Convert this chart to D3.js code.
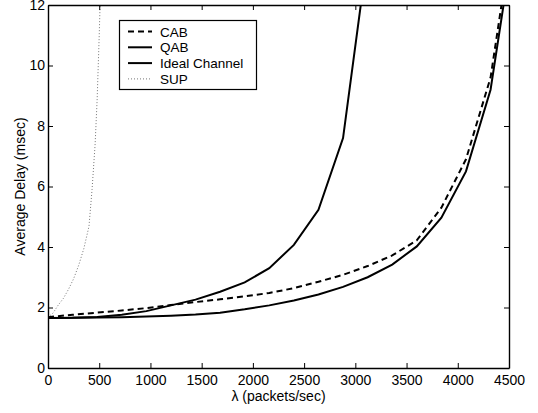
<!DOCTYPE html>
<html>
<head>
<meta charset="utf-8">
<script src="https://cdn.jsdelivr.net/npm/d3@7"></script>
<style>
  body { margin: 0; background: #fff; }
  svg text { font-family: "Liberation Sans", Arial, Helvetica, sans-serif; fill: #000; }
</style>
</head>
<body>
<svg id="chart" width="538" height="413"></svg>
<script>
// arrival rate lambda (packets/sec) at which the model curves were evaluated
var lambdas = [0, 240, 480, 720, 960, 1200, 1440, 1680, 1920, 2160, 2400, 2640, 2880, 3120, 3360, 3600, 3840, 4080, 4320, 4560];
// average delay (msec) for each scheme
var cabDelay   = [1.68, 1.76, 1.83, 1.9, 1.98, 2.08, 2.18, 2.27, 2.37, 2.48, 2.64, 2.85, 3.08, 3.37, 3.72, 4.22, 5.3, 6.9, 9.6, 15];
var qabDelay   = [1.65, 1.66, 1.69, 1.76, 1.88, 2.07, 2.26, 2.52, 2.83, 3.3, 4.07, 5.23, 7.6, 13.7];
var idealDelay = [1.65, 1.66, 1.67, 1.68, 1.7, 1.73, 1.77, 1.83, 1.94, 2.07, 2.23, 2.43, 2.68, 3.0, 3.42, 4.02, 4.97, 6.5, 9.2, 14.5];
// SUP saturates early, sampled finer
var supLambdas = [0, 50, 100, 150, 200, 250, 300, 350, 400, 430, 460, 480, 500, 510];
var supDelay   = [1.67, 1.82, 2.08, 2.3, 2.6, 2.95, 3.4, 3.95, 4.68, 5.9, 7.4, 8.9, 11.0, 12.2];

var xTicks = [0, 500, 1000, 1500, 2000, 2500, 3000, 3500, 4000, 4500];
var yTicks = [0, 2, 4, 6, 8, 10, 12];

var series = [
  {name: "CAB", x: lambdas, y: cabDelay, dash: "6,4", color: "#000", width: 2},
  {name: "QAB", x: lambdas, y: qabDelay, dash: null, color: "#000", width: 2},
  {name: "Ideal Channel", x: lambdas, y: idealDelay, dash: null, color: "#000", width: 2},
  {name: "SUP", x: supLambdas, y: supDelay, dash: "1,2", color: "#777", width: 1}
];

var svg = d3.select("#chart");
var mLeft = 48, mRight = 509, mTop = 5, mBottom = 368;

var x = d3.scaleLinear().domain([0, 4500]).range([mLeft, mRight]);
var y = d3.scaleLinear().domain([0, 12]).range([mBottom, mTop]);

svg.append("defs").append("clipPath").attr("id", "plotclip")
  .append("rect").attr("x", mLeft).attr("y", mTop).attr("width", mRight - mLeft).attr("height", mBottom - mTop);

// curves
var line = d3.line().x(function(d){ return x(d[0]); }).y(function(d){ return y(d[1]); });
var curves = svg.append("g").attr("clip-path", "url(#plotclip)");
series.forEach(function(s){
  var pts = s.y.map(function(v, i){ return [s.x[i], v]; });
  curves.append("path").datum(pts).attr("d", line)
    .attr("fill", "none").attr("stroke", s.color).attr("stroke-width", s.width)
    .attr("stroke-dasharray", s.dash);
});

// axes, boxed matlab style with inward ticks
var fs = 14;
var fmt = d3.format("d");
var xb = svg.append("g").attr("transform", "translate(0," + mBottom + ")")
  .call(d3.axisBottom(x).tickValues(xTicks).tickFormat(fmt).tickSizeInner(-5).tickSizeOuter(0).tickPadding(7));
var xt = svg.append("g").attr("transform", "translate(0," + mTop + ")")
  .call(d3.axisTop(x).tickValues(xTicks).tickSizeInner(-5).tickSizeOuter(0).tickFormat(""));
var yl = svg.append("g").attr("transform", "translate(" + mLeft + ",0)")
  .call(d3.axisLeft(y).tickValues(yTicks).tickFormat(fmt).tickSizeInner(-5).tickSizeOuter(0).tickPadding(3));
var yr = svg.append("g").attr("transform", "translate(" + mRight + ",0)")
  .call(d3.axisRight(y).tickValues(yTicks).tickSizeInner(-5).tickSizeOuter(0).tickFormat(""));
[xb, xt, yl, yr].forEach(function(g){
  g.select(".domain").attr("stroke", "#000").attr("stroke-width", 1.4);
  g.selectAll(".tick line").attr("stroke", "#000").attr("stroke-width", 1);
  g.selectAll(".tick text").attr("font-size", fs).attr("fill", "#000")
    .style("font-family", "'Liberation Sans', Arial, Helvetica, sans-serif");
});

// axis titles
svg.append("text").attr("x", (mLeft + mRight) / 2).attr("y", 401).attr("text-anchor", "middle")
  .attr("font-size", 14).text("\u03bb (packets/sec)");
svg.append("text").attr("transform", "translate(25," + ((mTop + mBottom) / 2) + ") rotate(-90)")
  .attr("text-anchor", "middle").attr("font-size", 14).text("Average Delay (msec)");

// legend
var lg = svg.append("g");
lg.append("rect").attr("x", 119.5).attr("y", 20.5).attr("width", 137).attr("height", 69)
  .attr("fill", "#fff").attr("stroke", "#000").attr("stroke-width", 1.2);
series.forEach(function(s, i){
  var ly = 31.5 + i * 15.8;
  lg.append("line").attr("x1", 128).attr("x2", 152).attr("y1", ly).attr("y2", ly)
    .attr("stroke", s.color).attr("stroke-width", s.width).attr("stroke-dasharray", s.dash);
  lg.append("text").attr("x", 160).attr("y", ly + 5).attr("font-size", 13.5).text(s.name);
});
</script>
</body>
</html>
